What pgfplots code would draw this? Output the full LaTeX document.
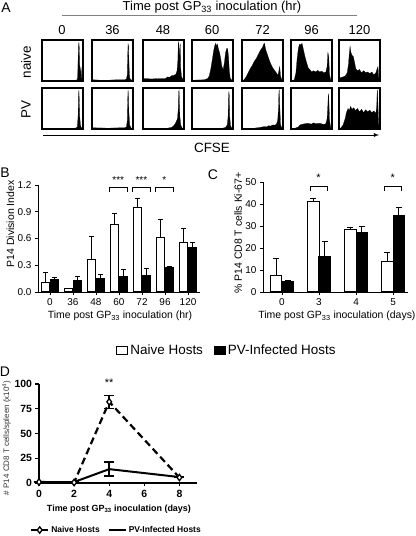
\documentclass[border=0pt]{standalone}
\usepackage{pgfplots}
\pgfplotsset{compat=1.18}
\usepackage{fontspec}
\setmainfont{Liberation Sans}
\newcommand{\fs}[1]{\fontsize{#1}{#1}\selectfont}
\newcommand{\hist}[3]{%
\begin{axis}[at={(#1bp,#2bp)},anchor=south west,width=41bp,height=41bp,scale only axis,
 xmin=0,xmax=100,ymin=0,ymax=100,ticks=none,axis on top,axis line style={line width=1.7bp}]
\addplot[fill=black,draw=black,line width=0.2bp] coordinates {#3} \closedcycle;
\end{axis}}
\pgfplotsset{
  barax/.style={scale only axis, axis lines=left, axis line style={-,line width=0.9bp},
    tick align=outside, major tick length=3bp, tick style={black,line width=0.8bp},
    /pgf/number format/assume math mode=true, ticklabel style={font=\fs{10}},
    label style={font=\fs{10.5}}, clip=false},
}
\begin{document}
\begin{tikzpicture}
\path[use as bounding box] (0,0) rectangle (416bp,536bp);
% ---------- Panel A ----------
\node[font=\fs{14}] at (6bp,528bp) {A};
\node[font=\fs{13}] at (212bp,529bp) {Time post GP\textsubscript{33} inoculation (hr)};
\draw[gray,line width=0.6bp] (62bp,521bp) -- (357bp,521bp);
\foreach \xx/\lab in {62/0,112.5/36,163/48,212/60,262.5/72,311.5/96,359.5/120}
  \node[font=\fs{13}] at (\xx bp,506bp) {\lab};
\node[font=\fs{13.5},rotate=90] at (26bp,474bp) {naive};
\node[font=\fs{13.5},rotate=90] at (26bp,426bp) {PV};
\draw[-latex,line width=0.8bp] (43bp,401bp) -- (379bp,401bp);
\node[font=\fs{13.5}] at (212bp,388bp) {CFSE};
% naive row
\hist{42}{455}{(0,0)(3,1)(80,1)(84,2)(86,4)(87,10)(88,50)(89,85)(90,94)(91,80)(92,40)(93,15)(94,25)(95,35)(96,20)(97,6)(100,0)}
\hist{92}{455}{(0,0)(3,3)(20,2)(40,2)(60,3)(80,3)(84,5)(86,15)(87,60)(88,90)(89,85)(90,50)(91,20)(92,8)(94,4)(100,0)}
\hist{143}{455}{(0,0)(3,6)(20,5)(40,6)(55,6)(60,10)(65,9)(70,13)(75,14)(80,16)(83,25)(85,50)(86,90)(87,95)(88,70)(89,40)(90,85)(91,90)(92,30)(94,10)(100,0)}
\hist{192}{455}{(0,0)(3,2)(30,3)(38,6)(42,12)(46,30)(50,55)(53,75)(56,88)(58,92)(60,85)(62,90)(64,80)(67,70)(70,55)(73,35)(76,28)(79,45)(82,70)(85,80)(87,78)(89,60)(91,25)(93,8)(96,3)(100,0)}
\hist{242}{455}{(0,0)(5,3)(10,10)(15,20)(20,30)(25,38)(30,48)(35,55)(40,65)(45,75)(50,82)(53,90)(55,92)(57,80)(60,70)(65,55)(70,42)(75,32)(80,25)(85,18)(88,15)(90,25)(92,35)(94,12)(97,3)(100,0)}
\hist{291}{455}{(0,0)(8,3)(12,20)(15,55)(18,80)(21,90)(24,88)(27,92)(30,78)(34,60)(38,45)(42,32)(46,28)(50,22)(55,25)(60,22)(65,26)(70,22)(75,24)(80,20)(85,22)(88,35)(90,70)(92,60)(94,15)(97,3)(100,0)}
\hist{339}{455}{(0,0)(3,8)(10,10)(15,12)(20,20)(23,40)(25,65)(27,85)(29,70)(32,62)(35,60)(38,45)(41,30)(45,25)(50,28)(55,20)(60,25)(65,20)(70,22)(75,18)(80,22)(85,15)(90,20)(93,30)(95,35)(97,8)(100,0)}
% PV row
\hist{42}{407}{(0,0)(3,1)(70,1)(80,2)(84,3)(86,5)(88,30)(89,80)(90,95)(91,70)(92,30)(94,8)(96,3)(100,0)}
\hist{92}{407}{(0,0)(3,3)(40,2)(70,3)(80,3)(84,5)(86,20)(87,70)(88,95)(89,80)(90,40)(92,10)(95,3)(100,0)}
\hist{143}{407}{(0,0)(3,1)(60,2)(70,4)(75,8)(78,12)(81,18)(84,25)(86,50)(87,90)(88,95)(89,60)(90,30)(92,10)(95,3)(100,0)}
\hist{192}{407}{(0,0)(3,1)(60,1)(75,2)(82,4)(86,10)(88,30)(89,75)(90,92)(91,80)(92,30)(94,8)(97,2)(100,0)}
\hist{242}{407}{(0,0)(5,1)(30,2)(45,4)(55,6)(60,5)(65,8)(70,7)(75,10)(80,9)(84,12)(87,20)(89,50)(90,90)(91,95)(92,60)(94,10)(97,3)(100,0)}
\hist{291}{407}{(0,0)(10,2)(18,5)(22,10)(30,12)(40,14)(50,12)(55,15)(60,13)(70,14)(80,11)(85,13)(88,25)(90,60)(91,85)(92,80)(94,20)(97,3)(100,0)}
\hist{339}{407}{(0,0)(5,3)(10,10)(15,25)(18,40)(22,50)(25,45)(28,55)(32,48)(36,52)(40,45)(45,50)(50,42)(55,48)(60,40)(65,47)(70,42)(75,46)(80,40)(85,44)(90,38)(92,55)(93,90)(94,95)(95,60)(97,10)(100,0)}
% ---------- Panel B ----------
\node[font=\fs{14}] at (5bp,363bp) {B};
\begin{axis}[barax, at={(38bp,244bp)}, anchor=south west, width=162bp, height=107bp,
  xmin=-0.52, xmax=6.52, ymin=0, ymax=1.2, ytick={0,0.3,0.6,0.9,1.2},
  xtick={0,1,2,3,4,5,6}, xticklabels={0,36,48,60,72,96,120},
  yticklabel style={/pgf/number format/.cd,fixed,fixed zerofill,precision=1},
  ylabel={P14 Division Index}, ylabel style={at={(axis description cs:-0.17,0.636)},anchor=center},
  xlabel={Time post GP\textsubscript{33} inoculation (hr)}, xlabel style={at={(axis description cs:0.506,-0.224)},anchor=center},
  legend style={at={(1.167,-0.55)},anchor=center,draw=none,fill=none,legend columns=2,font=\fs{13.5},
    /tikz/every even column/.append style={column sep=9bp}},
  legend image code/.code={\draw[#1,/tikz/.cd] (0bp,-4bp) rectangle (11bp,4bp);},
  error bars/y dir=plus, error bars/y explicit,
  error bars/error bar style={black,line width=0.9bp},
  error bars/error mark options={rotate=90,mark size=2.6bp,line width=0.9bp,black}]
\addplot[ybar,bar width=8.5bp,bar shift=0pt,fill=white,draw=black,line width=1bp]
 coordinates {(-0.196,0.105)+-(0,0.109) (0.804,0.041)+-(0,0.0) (1.804,0.364)+-(0,0.255) (2.804,0.757)+-(0,0.128)
   (3.804,0.949)+-(0,0.101) (4.804,0.607)+-(0,0.210) (5.804,0.555)+-(0,0.157)};
\addlegendentry{Naive Hosts}
\addplot[ybar,bar width=8.5bp,bar shift=0pt,fill=black,draw=black,line width=1bp]
 coordinates {(0.196,0.139)+-(0,0.026) (1.196,0.131)+-(0,0.038) (2.196,0.150)+-(0,0.045) (3.196,0.169)+-(0,0.082)
   (4.196,0.188)+-(0,0.075) (5.196,0.274)+-(0,0.015) (6.196,0.502)+-(0,0.057)};
\addlegendentry{PV-Infected Hosts}
\foreach \c in {3,4,5}{
  \edef\tmp{\noexpand\draw[line width=0.8bp] (axis cs:\c-0.43,1.12) -- (axis cs:\c-0.43,1.177) -- (axis cs:\c+0.37,1.177) -- (axis cs:\c+0.37,1.12);}\tmp}
\node[font=\fs{10}] at (axis cs:2.97,1.26) {***};
\node[font=\fs{10}] at (axis cs:3.97,1.26) {***};
\node[font=\fs{10}] at (axis cs:4.97,1.26) {*};
\end{axis}
% ---------- Panel C ----------
\node[font=\fs{14}] at (213bp,361bp) {C};
\begin{axis}[barax, at={(263bp,244bp)}, anchor=south west, width=145bp, height=110bp,
  xmin=-0.51, xmax=3.40, ymin=0, ymax=50, ytick={0,10,20,30,40,50},
  xtick={0,1,2,3}, xticklabels={0,3,4,5},
  ylabel={\% P14 CD8 T cells Ki-67+}, ylabel style={at={(axis description cs:-0.172,0.536)},anchor=center},
  xlabel={Time post GP\textsubscript{33} inoculation (days)}, xlabel style={at={(axis description cs:0.51,-0.22)},anchor=center},
  error bars/y dir=plus, error bars/y explicit,
  error bars/error bar style={black,line width=0.9bp},
  error bars/error mark options={rotate=90,mark size=3bp,line width=0.9bp,black}]
\addplot[ybar,bar width=11.5bp,bar shift=0pt,fill=white,draw=black,line width=1bp]
 coordinates {(-0.154,7.6)+-(0,7.6) (0.846,41.0)+-(0,1.6) (1.846,28.4)+-(0,1.1) (2.846,14.0)+-(0,4.2)};
\addplot[ybar,bar width=11.5bp,bar shift=0pt,fill=black,draw=black,line width=1bp]
 coordinates {(0.154,4.6)+-(0,0.6) (1.154,16.1)+-(0,6.7) (2.154,26.9)+-(0,2.9) (3.154,34.8)+-(0,3.5)};
\foreach \c in {1,3}{
  \edef\tmp{\noexpand\draw[line width=0.8bp] (axis cs:\c-0.24,45.9) -- (axis cs:\c-0.24,48.2) -- (axis cs:\c+0.22,48.2) -- (axis cs:\c+0.22,45.9);}\tmp}
\node[font=\fs{11}] at (axis cs:0.99,51.8) {*};
\node[font=\fs{11}] at (axis cs:2.99,51.8) {*};
\end{axis}
% ---------- Panel D ----------
\node[font=\fs{14}] at (5bp,164bp) {D};
\begin{axis}[scale only axis, at={(39bp,53bp)}, anchor=south west, width=158bp, height=99bp,
  axis lines=left, axis line style={-,line width=1.6bp},
  tick align=outside, major tick length=3.5bp, tick style={black,line width=1.4bp},
  /pgf/number format/assume math mode=true, ticklabel style={font=\bfseries\fs{10.5}},
  clip=false, xmin=0, xmax=9, ymin=0, ymax=100, xtick={0,2,4,6,8}, ytick={0,25,50,75,100},
  ylabel={\# P14 CD8 T cells/spleen (x10\textsuperscript{4})},
  ylabel style={font=\fs{8},text=black!80,at={(axis description cs:-0.205,0.455)},anchor=center},
  xlabel={Time post GP\textsubscript{33} inoculation (days)},
  xlabel style={font=\bfseries\fs{9},at={(axis description cs:0.506,-0.263)},anchor=center},
  legend style={at={(0.49,-0.475)},anchor=center,draw=none,fill=none,legend columns=2,font=\bfseries\fs{8.5},
    /tikz/every even column/.append style={column sep=6bp}},
  error bars/y dir=both, error bars/y explicit,
  error bars/error bar style={solid,black,line width=1.5bp},
  error bars/error mark options={rotate=90,mark size=5bp,line width=1.5bp,black,solid}]
\addplot[black,line width=2.2bp,dash pattern=on 7bp off 4bp,mark=diamond*,
  mark options={solid,fill=white,draw=black,line width=1.3bp,scale=1.6}]
 coordinates {(0,1)+-(0,0) (2,0.5)+-(0,0) (4,82)+-(0,6.5) (8,5.5)+-(0,0)};
\addlegendentry{Naive Hosts}
\addplot[black,line width=2bp,no markers]
 coordinates {(0,1)+-(0,0) (2,1)+-(0,0) (4,14)+-(0,7) (8,6)+-(0,0)};
\addlegendentry{PV-Infected Hosts}
\node[font=\fs{11}] at (axis cs:4,101.5) {**};
\end{axis}
\end{tikzpicture}
\end{document}
